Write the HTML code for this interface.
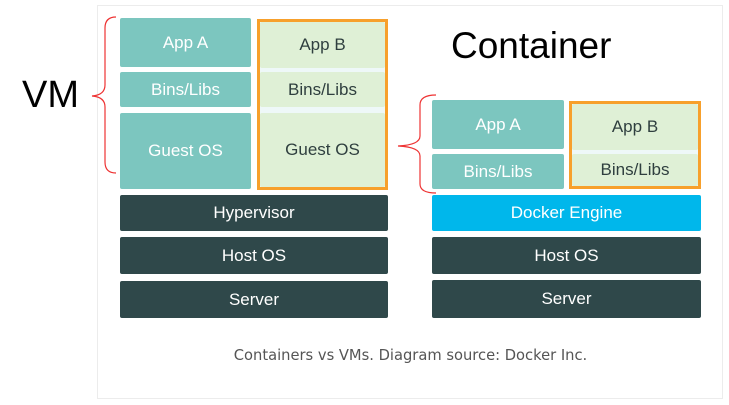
<!DOCTYPE html>
<html><head><meta charset="utf-8"><style>
body{margin:0;width:729px;height:405px;background:#fff;position:relative;overflow:hidden;font-family:"Liberation Sans",Arial,sans-serif}
.b{position:absolute;display:flex;align-items:center;justify-content:center;font-size:17px;box-sizing:border-box;border-radius:2px}
.t{background:#7cc6bf;color:#fff}
.g{background:#dff0d6;color:#2f3f3f}
.d{background:#2f484a;color:#fff}
.o{position:absolute;border:3px solid #f7a02c;box-sizing:border-box;background:#eef8f8}
</style></head><body>
<div style="position:absolute;left:97px;top:5px;width:626px;height:394px;border:1px solid #ececec;box-sizing:border-box"></div>

<div class="b t" style="left:120px;top:18px;width:131px;height:49px">App A</div>
<div class="b t" style="left:120px;top:72px;width:131px;height:35px">Bins/Libs</div>
<div class="b t" style="left:120px;top:113px;width:131px;height:76px">Guest OS</div>
<div class="o" style="left:257px;top:19px;width:131px;height:171px"></div>
<div class="b g" style="left:260px;top:22px;width:125px;height:46px">App B</div>
<div class="b g" style="left:260px;top:72px;width:125px;height:35px">Bins/Libs</div>
<div class="b g" style="left:260px;top:113px;width:125px;height:74px">Guest OS</div>
<div class="b d" style="left:120px;top:195px;width:268px;height:36px">Hypervisor</div>
<div class="b d" style="left:120px;top:237px;width:268px;height:37px">Host OS</div>
<div class="b d" style="left:120px;top:281px;width:268px;height:37px">Server</div>

<div class="b t" style="left:432px;top:100px;width:132px;height:49px">App A</div>
<div class="b t" style="left:432px;top:154px;width:132px;height:35px">Bins/Libs</div>
<div class="o" style="left:569px;top:101px;width:132px;height:88px"></div>
<div class="b g" style="left:572px;top:104px;width:126px;height:46px">App B</div>
<div class="b g" style="left:572px;top:154px;width:126px;height:32px">Bins/Libs</div>
<div class="b" style="left:432px;top:195px;width:269px;height:36px;background:#00b7eb;color:#fff">Docker Engine</div>
<div class="b d" style="left:432px;top:237px;width:269px;height:37px">Host OS</div>
<div class="b d" style="left:432px;top:280px;width:269px;height:38px">Server</div>

<svg style="position:absolute;left:0;top:0" width="729" height="405">
<path d="M116 17 Q105 17 105 28 L105 85 Q105 95 92 96 Q105 97 105 107 L105 162 Q105 173 116 173" fill="none" stroke="#e33" stroke-width="1.2"/>
<path d="M436 95 Q420 95 420 105 L420 136 Q420 145 398 146 Q420 147 420 156 L420 184 Q420 193 436 193" fill="none" stroke="#e33" stroke-width="1.2"/>
</svg>
<div style="position:absolute;left:22px;top:74px;font-size:38px;color:#000">VM</div>
<div style="position:absolute;left:451px;top:25px;font-size:37px;color:#000">Container</div>
<div style="position:absolute;left:0;width:821px;top:347px;text-align:center;font-family:'DejaVu Sans',sans-serif;font-size:14.7px;color:#555">Containers vs VMs. Diagram source: Docker Inc.</div>
</body></html>
